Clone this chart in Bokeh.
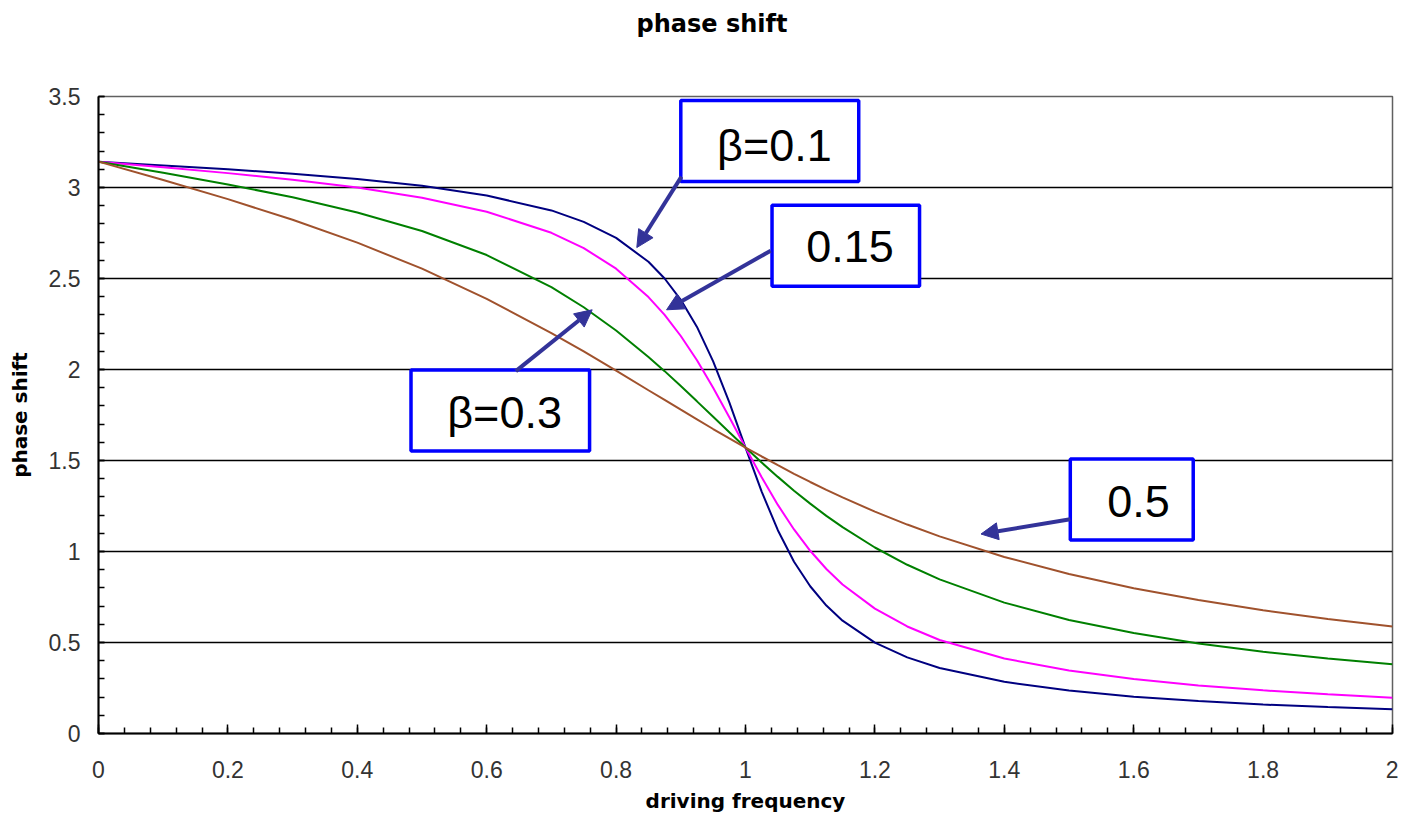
from bokeh.plotting import figure
from bokeh.models import (Range1d, SingleIntervalTicker, BoxAnnotation, Label,
                          Arrow, NormalHead, Title)
from bokeh.embed import file_html
from bokeh.resources import INLINE

# ---- data ----
omega = [0, 0.1, 0.2, 0.3, 0.4, 0.5, 0.6, 0.7, 0.75, 0.8, 0.85, 0.875, 0.9, 0.925,
         0.95, 0.975, 1.0, 1.025, 1.05, 1.075, 1.1, 1.125, 1.15, 1.2, 1.25, 1.3,
         1.4, 1.5, 1.6, 1.7, 1.8, 1.9, 2.0]

phase_b010 = [3.142, 3.121, 3.100, 3.076, 3.047, 3.009, 2.956, 2.874, 2.811, 2.723,
              2.592, 2.500, 2.383, 2.234, 2.045, 1.819, 1.571, 1.329, 1.117, 0.944,
              0.809, 0.703, 0.620, 0.499, 0.418, 0.360, 0.284, 0.236, 0.202, 0.178,
              0.159, 0.145, 0.133]

phase_b015 = [3.142, 3.111, 3.079, 3.043, 3.000, 2.944, 2.867, 2.751, 2.667, 2.554,
              2.398, 2.300, 2.184, 2.051, 1.900, 1.738, 1.571, 1.408, 1.256, 1.121,
              1.004, 0.904, 0.819, 0.686, 0.588, 0.514, 0.412, 0.346, 0.299, 0.264,
              0.237, 0.215, 0.197]

phase_b030 = [3.142, 3.081, 3.017, 2.946, 2.863, 2.761, 2.629, 2.453, 2.342, 2.214,
              2.069, 1.991, 1.909, 1.825, 1.740, 1.655, 1.571, 1.489, 1.410, 1.334,
              1.263, 1.196, 1.134, 1.022, 0.927, 0.847, 0.719, 0.624, 0.552, 0.495,
              0.449, 0.412, 0.381]

phase_b050 = [3.142, 3.041, 2.936, 2.823, 2.697, 2.554, 2.388, 2.200, 2.099, 1.994,
              1.886, 1.833, 1.779, 1.726, 1.673, 1.621, 1.571, 1.522, 1.474, 1.427,
              1.382, 1.339, 1.297, 1.219, 1.148, 1.083, 0.970, 0.876, 0.798, 0.733,
              0.677, 0.629, 0.588]

series_colors = ["#000080", "#FF00FF", "#008000", "#A0522D"]

chart_title = "phase shift"

# annotation texts and their placement (data units)
ann_texts = ["β=0.1", "0.15", "β=0.3", "0.5"]
ann_boxes = [(0.900, 1.175, 3.033, 3.478),
             (1.041, 1.269, 2.458, 2.903),
             (0.483, 0.759, 1.552, 1.997),
             (1.502, 1.692, 1.063, 1.508)]
ann_text_pos = [(0.956, 3.231), (1.094, 2.678), (0.539, 1.763), (1.559, 1.275)]
ann_arrows = [(0.901, 3.060, 0.832, 2.670),
              (1.039, 2.653, 0.878, 2.328),
              (0.645, 1.991, 0.763, 2.328),
              (1.502, 1.177, 1.364, 1.096)]

p = figure(width=1398, height=815, output_backend="svg", toolbar_location=None,
           x_range=Range1d(0, 2), y_range=Range1d(0, 3.5),
           min_border_left=98, min_border_right=6, min_border_top=96,
           min_border_bottom=74)
p.title = None

# spacer panel next to the frame, then the real title further out
p.add_layout(Title(text=" ", text_font_size="10px", standoff=36), "above")
p.add_layout(Title(text=chart_title, align="left", offset=538,
                   vertical_align="top", standoff=16,
                   text_font="DejaVu Sans", text_font_size="24px",
                   text_font_style="bold", text_color="#000000"), "above")

p.background_fill_color = "white"
p.border_fill_color = "white"
p.outline_line_color = "#606060"
p.outline_line_width = 1.5

# axes
p.xaxis.ticker = SingleIntervalTicker(interval=0.2, num_minor_ticks=5)
p.yaxis.ticker = SingleIntervalTicker(interval=0.5, num_minor_ticks=5)
for ax in (p.xaxis[0], p.yaxis[0]):
    ax.axis_line_color = "#000000"
    ax.axis_line_width = 2
    ax.major_tick_line_color = "#000000"
    ax.minor_tick_line_color = "#000000"
    ax.major_tick_line_width = 1.5
    ax.minor_tick_line_width = 1.5
    ax.major_tick_out = 0
    ax.minor_tick_out = 0
    ax.major_label_text_font = "Liberation Sans"
    ax.major_label_text_font_size = "23px"
    ax.major_label_text_color = "#333333"
    ax.axis_label_text_font = "DejaVu Sans"
    ax.axis_label_text_font_size = "20px"
    ax.axis_label_text_font_style = "bold"
    ax.axis_label_text_color = "#000000"
p.xaxis.major_tick_in = 9
p.xaxis.minor_tick_in = 6
p.yaxis.major_tick_in = 6
p.yaxis.minor_tick_in = 6
p.xaxis.major_label_standoff = 27
p.yaxis.major_label_standoff = 18
p.xaxis.axis_label = "driving frequency"
p.yaxis.axis_label = "phase shift"
p.xaxis.axis_label_standoff = 8
p.yaxis.axis_label_standoff = 14
p.xaxis.major_label_overrides = {0: "0", 1: "1", 2: "2"}
p.yaxis.major_label_overrides = {0: "0", 1: "1", 2: "2", 3: "3"}

p.xgrid.visible = False
p.ygrid.grid_line_color = "#000000"
p.ygrid.grid_line_width = 1.5

# curves
for ys, c in zip([phase_b010, phase_b015, phase_b030, phase_b050], series_colors):
    p.line(omega, ys, line_color=c, line_width=2)

# annotation boxes, labels, arrows
for (l, r, b, t) in ann_boxes:
    p.add_layout(BoxAnnotation(left=l, right=r, bottom=b, top=t,
                               fill_color="white", fill_alpha=1.0,
                               line_color="#0000FF", line_width=3.5, line_alpha=1.0))
for txt, (tx, ty) in zip(ann_texts, ann_text_pos):
    p.add_layout(Label(x=tx, y=ty, text=txt, text_font="Liberation Sans",
                       text_font_size="45px", text_color="#000000",
                       text_baseline="middle", text_align="left"))
for (x0, y0, x1, y1) in ann_arrows:
    p.add_layout(Arrow(end=NormalHead(size=17, fill_color="#333399",
                                      line_color="#333399"),
                       x_start=x0, y_start=y0, x_end=x1, y_end=y1,
                       line_color="#333399", line_width=4))

open("out.html", "w").write(file_html(p, INLINE))
